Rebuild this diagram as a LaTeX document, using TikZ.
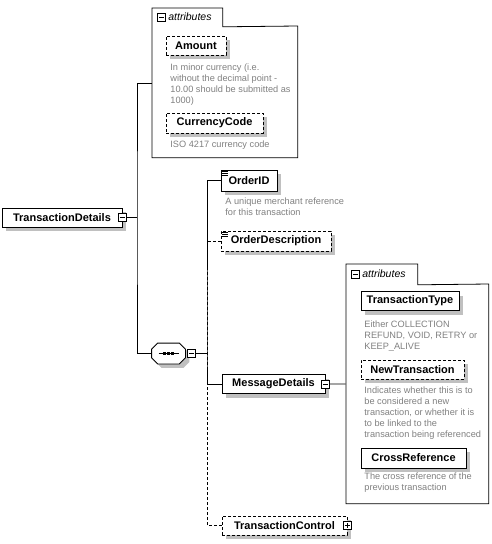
\documentclass[tikz,border=0pt]{standalone}
\usepackage{fontspec}
\setmainfont{Liberation Sans}
\usetikzlibrary{positioning, fit, shadows}
\definecolor{shadowgray}{RGB}{192,192,192}
\definecolor{notegray}{RGB}{128,128,128}

\begin{document}
\begin{tikzpicture}[x=1pt, y=-1pt, line width=0.8pt,
    every node/.style={font=\fontsize{11}{13}\selectfont\bfseries},
    boxshadow/.style={drop shadow={shadow xshift=4pt, shadow yshift=-4pt, fill=shadowgray, opacity=1}},
    elem/.style={rectangle, draw, fill=white, minimum height=19pt, inner sep=0pt, boxshadow},
    optelem/.style={elem, dash pattern=on 3pt off 2pt},
    optline/.style={dash pattern=on 3pt off 2pt},
    note/.style={anchor=north west, inner sep=0pt, align=left, text=notegray,
        font=\fontsize{9.2}{11}\selectfont},
    tabcap/.style={anchor=west, inner sep=0pt, font=\fontsize{10.5}{12}\selectfont\itshape},
    area/.style={anchor=north west, inner sep=0pt},
    minusicon/.style={rectangle, draw, fill=white, minimum size=8pt, inner sep=0pt, line width=0.6pt,
        path picture={\draw ([xshift=1.5pt]path picture bounding box.west) -- ([xshift=-1.5pt]path picture bounding box.east);}},
    plusicon/.style={rectangle, draw, fill=white, minimum size=8pt, inner sep=0pt, line width=0.6pt,
        path picture={\draw ([xshift=1.5pt]path picture bounding box.west) -- ([xshift=-1.5pt]path picture bounding box.east);
                      \draw ([yshift=-1.5pt]path picture bounding box.north) -- ([yshift=1.5pt]path picture bounding box.south);}},
    seqarea/.style={inner sep=0pt, minimum width=33pt, minimum height=20pt}
]
\useasboundingbox (0,0) rectangle (492,544);

% root element
\node[elem, minimum width=120pt] (td) at (62,217.5) {TransactionDetails};
\node[minusicon] (tdm) at (td.east) {};

% attributes of TransactionDetails
\node[area, minimum width=70pt, minimum height=18pt] (tabA) at (152,8) {};
\node[area, minimum width=145pt, minimum height=131pt] (boxA) at (152,26) {};
\draw (tabA.south east) -- (tabA.north east) -- (tabA.north west) -- (boxA.south west)
    -- (boxA.south east) -- (boxA.north east) -- cycle;
\node[minusicon] (tabAm) at (161.5,17) {};
\node[tabcap] (tabAt) at (168,17) {attributes};
\node[fit=(tabA)(boxA), inner sep=0pt] (attrA) {};

\node[optelem, minimum width=60pt] (amount) at (196,45.5) {Amount};
\node[note] (amountn) at (170,63) {In minor currency (i.e.\\without the decimal point -\\10.00 should be submitted as\\1000)};
\node[optelem, minimum width=97pt, minimum height=20pt] (ccode) at (214.5,123) {CurrencyCode};
\node[note] (ccoden) at (170,140) {ISO 4217 currency code};

% sequence
\node[seqarea] (seq) at (168.5,353.5) {};
\filldraw[fill=white, boxshadow] ([xshift=6pt]seq.north west) -- ([xshift=-6pt]seq.north east)
    -- ([yshift=-6pt]seq.north east) -- ([yshift=6pt]seq.south east)
    -- ([xshift=-6pt]seq.south east) -- ([xshift=6pt]seq.south west)
    -- ([yshift=6pt]seq.south west) -- ([yshift=-6pt]seq.north west) -- cycle;
\draw (seq.center) ++(-10,0) -- ++(20,0);
\foreach \dx in {-4,0,4}
    \fill ([xshift=\dx pt]seq.center) ++(-1.5,-1.5) rectangle ++(3,3);
\node[minusicon] (seqm) at (191.5,353) {};

% children of the sequence
\node[elem, minimum width=56pt, minimum height=21pt] (oid) at (249,180.5) {OrderID};
\foreach \d in {2,4,6}
    \draw[line width=0.6pt] ([shift={(1,\d)}]oid.north west) -- ++(6,0);
\node[note] (oidn) at (225,197) {A unique merchant reference\\for this transaction};

\node[optelem, minimum width=110pt, minimum height=20pt] (odesc) at (276,241) {OrderDescription};
\foreach \d in {2,4,6}
    \draw[line width=0.6pt] ([shift={(1,\d)}]odesc.north west) -- ++(6,0);

\node[elem, minimum width=103pt] (msg) at (273.5,384) {MessageDetails};
\node[minusicon] (msgm) at (msg.east) {};

\node[optelem, minimum width=125pt] (tctl) at (284.5,525.5) {TransactionControl};
\node[plusicon] (tctlm) at (tctl.east) {};

% attributes of MessageDetails
\node[area, minimum width=71pt, minimum height=20pt] (tabB) at (346,264) {};
\node[area, minimum width=142pt, minimum height=219pt] (boxB) at (346,284) {};
\draw (tabB.south east) -- (tabB.north east) -- (tabB.north west) -- (boxB.south west)
    -- (boxB.south east) -- (boxB.north east) -- cycle;
\node[minusicon] (tabBm) at (355.5,274) {};
\node[tabcap] (tabBt) at (362,274) {attributes};
\node[fit=(tabB)(boxB), inner sep=0pt] (attrB) {};

\node[elem, minimum width=98pt] (ttype) at (410,301) {TransactionType};
\node[note] (ttypen) at (364,320) {Either COLLECTION\\REFUND, VOID, RETRY or\\KEEP\_ALIVE};
\node[optelem, minimum width=103pt] (newt) at (412.5,369.5) {NewTransaction};
\node[note] (newtn) at (364,386) {Indicates whether this is to\\be considered a new\\transaction, or whether it is\\to be linked to the\\transaction being referenced};
\node[elem, minimum width=105pt, minimum height=20pt] (xref) at (413.5,458) {CrossReference};
\node[note] (xrefn) at (364,472) {The cross reference of the\\previous transaction};

% connectors
\coordinate (j1) at (137,217.5);
\coordinate (j2) at (207,353);
\draw (tdm) -- (j1);
\draw (attrA.west) -| (j1) |- (seq.west);
\draw (seqm) -- (j2);
\draw (oid.west) -| (j2) |- (msg.west);
\draw[optline] (odesc.west) -| (j2);
\draw[optline] (tctl.west) -| (j2);
\draw (msgm) -- (attrB.west);

\end{tikzpicture}
\end{document}
